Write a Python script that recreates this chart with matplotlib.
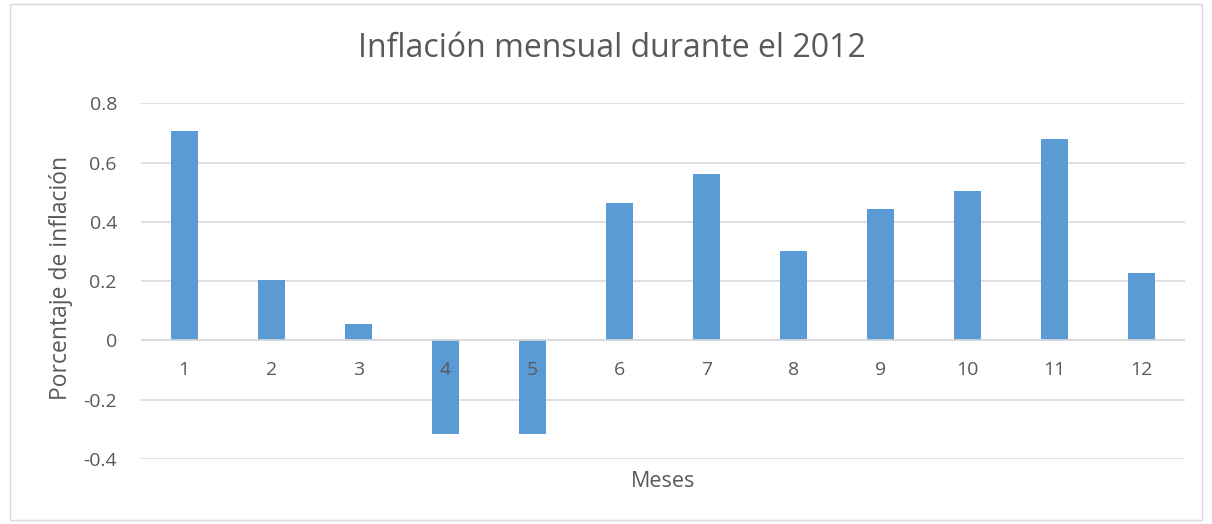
import matplotlib
matplotlib.use("Agg")
import matplotlib.pyplot as plt
from matplotlib.patches import Rectangle

months = ["1", "2", "3", "4", "5", "6", "7", "8", "9", "10", "11", "12"]
inflation = [0.707, 0.203, 0.057, -0.314, -0.316, 0.462, 0.562, 0.30, 0.442, 0.505, 0.68, 0.229]
yticks = [-0.4, -0.2, 0, 0.2, 0.4, 0.6, 0.8]
ytick_labels = ["-0.4", "-0.2", "0", "0.2", "0.4", "0.6", "0.8"]

plt.rcParams['font.family'] = ['Open Sans', 'DejaVu Sans']
txt = "#595959"
grid = "#D9D9D9"

fig = plt.figure(figsize=(12.12, 5.24), dpi=100)
fig.patches.append(Rectangle((0.008, 0.008), 0.984, 0.984, transform=fig.transFigure,
                             fill=False, edgecolor="#D9D9D9", linewidth=1))
ax = fig.add_axes([0.116, 0.124, 0.862, 0.679])

x = list(range(len(months)))
ax.bar(x, inflation, width=0.31, color="#5B9BD5", zorder=3)
ax.set_xlim(-0.5, len(months) - 0.5)
ax.set_ylim(-0.4, 0.8)
ax.set_yticks(yticks)
ax.set_yticklabels(ytick_labels)
ax.grid(axis="y", color=grid, linewidth=1.2, zorder=0)
for s in ["top", "right", "left", "bottom"]:
    ax.spines[s].set_visible(False)
ax.axhline(0, color=grid, linewidth=1.2, zorder=4)
ax.set_xticks([])
for xi, lab in zip(x, months):
    ax.annotate(lab, (xi, 0), xytext=(0, -21), textcoords="offset points",
                ha="center", va="center", fontsize=14, color=txt, zorder=6)
ax.tick_params(axis="y", length=0, pad=17, labelsize=14, colors=txt)

fig.text(0.505, 0.908, "Inflación mensual durante el 2012", ha="center", va="center",
         fontsize=23, color=txt)
fig.text(0.547, 0.082, "Meses", ha="center", va="center", fontsize=15.5, color=txt)
fig.text(0.05, 0.47, "Porcentaje de inflación", ha="center", va="center",
         rotation=90, fontsize=16.5, color=txt)

fig.savefig("out.png", dpi=100)
